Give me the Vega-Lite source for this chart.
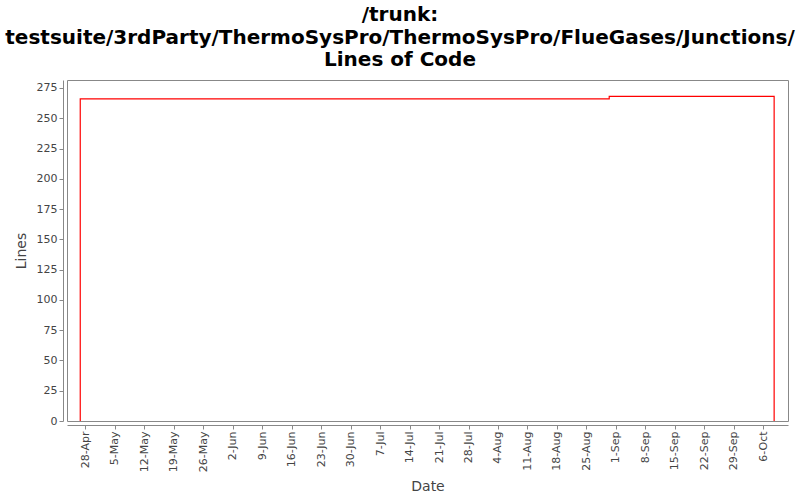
{
  "$schema": "https://vega.github.io/schema/vega-lite/v6.json",
  "autosize": "none",
  "width": 721,
  "height": 341,
  "padding": {"left": 67, "top": 80, "right": 12, "bottom": 79},
  "background": "white",
  "title": {
    "text": ["/trunk:", "testsuite/3rdParty/ThermoSysPro/ThermoSysPro/FlueGases/Junctions/", "Lines of Code"],
    "anchor": "middle",
    "dx": -27.5,
    "font": "DejaVu Sans",
    "fontSize": 20,
    "fontWeight": "bold",
    "color": "#000000",
    "lineHeight": 22.5,
    "offset": 10
  },
  "config": {
    "view": {"stroke": "#888888", "strokeWidth": 1},
    "axis": {
      "labelFont": "DejaVu Sans",
      "labelFontSize": 11,
      "labelColor": "#444444",
      "titleFont": "DejaVu Sans",
      "titleFontSize": 14,
      "titleFontWeight": "normal",
      "titleColor": "#444444",
      "domainColor": "#888888",
      "tickColor": "#888888",
      "tickSize": 4,
      "grid": false,
      "offset": 4
    }
  },
  "data": {
    "values": [
      {"i": 0, "date": "2008-04-26T19:00", "loc": 0},
      {"i": 1, "date": "2008-04-26T19:00", "loc": 266},
      {"i": 2, "date": "2008-08-30T10:00", "loc": 266},
      {"i": 3, "date": "2008-08-30T10:00", "loc": 268},
      {"i": 4, "date": "2008-10-08T14:00", "loc": 268},
      {"i": 5, "date": "2008-10-08T14:00", "loc": 0}
    ]
  },
  "mark": {"type": "line", "color": "#ff0000", "strokeWidth": 1.2, "clip": true},
  "encoding": {
    "x": {
      "field": "date",
      "type": "temporal",
      "title": "Date",
      "scale": {"domain": ["2008-04-23T15:30", "2008-10-11T21:00"], "nice": false},
      "axis": {
        "format": "%-d-%b",
        "labelAngle": -90,
        "titlePadding": 8,
        "values": [
          {"year": 2008, "month": 4, "date": 28},
          {"year": 2008, "month": 5, "date": 5},
          {"year": 2008, "month": 5, "date": 12},
          {"year": 2008, "month": 5, "date": 19},
          {"year": 2008, "month": 5, "date": 26},
          {"year": 2008, "month": 6, "date": 2},
          {"year": 2008, "month": 6, "date": 9},
          {"year": 2008, "month": 6, "date": 16},
          {"year": 2008, "month": 6, "date": 23},
          {"year": 2008, "month": 6, "date": 30},
          {"year": 2008, "month": 7, "date": 7},
          {"year": 2008, "month": 7, "date": 14},
          {"year": 2008, "month": 7, "date": 21},
          {"year": 2008, "month": 7, "date": 28},
          {"year": 2008, "month": 8, "date": 4},
          {"year": 2008, "month": 8, "date": 11},
          {"year": 2008, "month": 8, "date": 18},
          {"year": 2008, "month": 8, "date": 25},
          {"year": 2008, "month": 9, "date": 1},
          {"year": 2008, "month": 9, "date": 8},
          {"year": 2008, "month": 9, "date": 15},
          {"year": 2008, "month": 9, "date": 22},
          {"year": 2008, "month": 9, "date": 29},
          {"year": 2008, "month": 10, "date": 6}
        ]
      }
    },
    "y": {
      "field": "loc",
      "type": "quantitative",
      "title": "Lines",
      "scale": {"domain": [0, 281.6], "nice": false, "zero": true},
      "axis": {
        "values": [0, 25, 50, 75, 100, 125, 150, 175, 200, 225, 250, 275],
        "titlePadding": 8
      }
    },
    "order": {"field": "i", "type": "quantitative"}
  }
}
